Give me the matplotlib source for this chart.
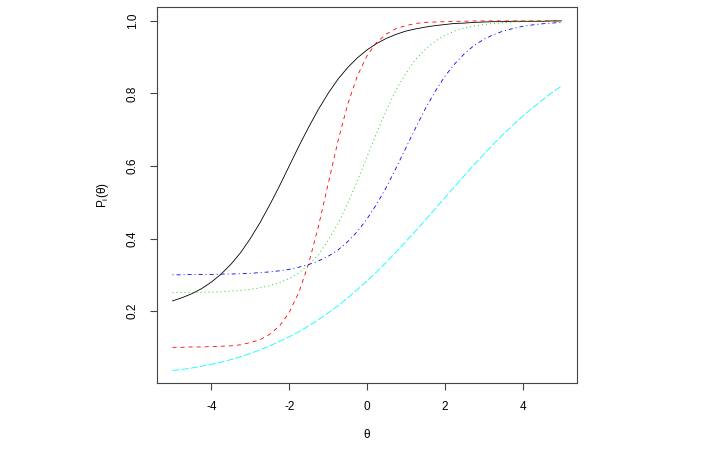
import numpy as np
import matplotlib
matplotlib.use('Agg')
import matplotlib.pyplot as plt

plt.rcParams['font.family'] = ['Liberation Sans', 'DejaVu Sans']
plt.rcParams['lines.scale_dashes'] = False
plt.rcParams['axes.unicode_minus'] = False

# theta grid (step 0.25) and item curves
theta = np.arange(-5, 5.0001, 0.25)

item1 = [0.228, 0.237, 0.248, 0.262, 0.280, 0.302, 0.329, 0.361, 0.400, 0.444,
         0.493, 0.545, 0.600, 0.655, 0.707, 0.756, 0.800, 0.839, 0.871, 0.898,
         0.920, 0.938, 0.952, 0.963, 0.972, 0.978, 0.983, 0.987, 0.990, 0.993,
         0.994, 0.996, 0.997, 0.998, 0.998, 0.999, 0.999, 0.999, 0.999, 1.000,
         1.000]
item2 = [0.100, 0.100, 0.101, 0.101, 0.102, 0.103, 0.104, 0.107, 0.113, 0.121,
         0.136, 0.159, 0.196, 0.252, 0.331, 0.433, 0.550, 0.667, 0.769, 0.848,
         0.904, 0.941, 0.964, 0.979, 0.987, 0.993, 0.996, 0.997, 0.998, 0.999,
         0.999, 1.000, 1.000, 1.000, 1.000, 1.000, 1.000, 1.000, 1.000, 1.000,
         1.000]
item3 = [0.251, 0.251, 0.251, 0.252, 0.252, 0.253, 0.255, 0.257, 0.260, 0.264,
         0.270, 0.278, 0.290, 0.306, 0.328, 0.356, 0.394, 0.440, 0.496, 0.558,
         0.625, 0.692, 0.754, 0.810, 0.856, 0.894, 0.922, 0.944, 0.960, 0.972,
         0.980, 0.986, 0.990, 0.993, 0.995, 0.997, 0.998, 0.998, 0.999, 0.999,
         0.999]
item4 = [0.300, 0.300, 0.301, 0.301, 0.301, 0.302, 0.302, 0.303, 0.304, 0.306,
         0.308, 0.311, 0.315, 0.321, 0.328, 0.338, 0.351, 0.368, 0.391, 0.419,
         0.454, 0.495, 0.542, 0.595, 0.650, 0.705, 0.758, 0.805, 0.847, 0.881,
         0.909, 0.932, 0.949, 0.962, 0.972, 0.979, 0.985, 0.989, 0.992, 0.994,
         0.996]
item5 = [0.036, 0.039, 0.043, 0.048, 0.053, 0.059, 0.066, 0.074, 0.083, 0.093,
         0.104, 0.116, 0.129, 0.143, 0.159, 0.176, 0.195, 0.214, 0.236, 0.259,
         0.283, 0.308, 0.335, 0.363, 0.392, 0.421, 0.451, 0.482, 0.512, 0.543,
         0.573, 0.603, 0.632, 0.660, 0.687, 0.712, 0.737, 0.760, 0.781, 0.802,
         0.820]

items = [item1, item2, item3, item4, item5]
colors = ['black', 'red', '#00CD00', 'blue', 'cyan']
# R lty 1..5, dash lengths in points
styles = ['-', (0, (2.9, 2.9)), (0, (0.72, 2.16)), (0, (0.72, 2.16, 2.9, 2.16)),
          (0, (5.0, 1.6))]

fig = plt.figure(figsize=(7.1, 4.62), dpi=100)
ax = fig.add_axes([157/710, 79/462, 420/710, 376/462])

for y, c, ls in zip(items, colors, styles):
    ax.plot(theta, y, color=c, linestyle=ls, linewidth=0.6)

ax.set_xlim(-5.4, 5.4)
ax.set_ylim(0.0016, 1.0384)
ax.set_xticks([-4, -2, 0, 2, 4])
ax.set_yticks([0.2, 0.4, 0.6, 0.8, 1.0])
ax.set_yticklabels(['0.2', '0.4', '0.6', '0.8', '1.0'])
ax.tick_params(direction='out', length=5, width=0.8, color='#444444',
               labelsize=8.5, pad=8)
ax.tick_params(axis='y', labelrotation=90)
for lab in ax.get_yticklabels():
    lab.set_va('center')
for s in ax.spines.values():
    s.set_color('#444444')
    s.set_linewidth(0.8)

ax.set_xlabel('θ', fontsize=8.5, va='center')
ax.xaxis.set_label_coords(0.5, -52/376)
ax.set_ylabel('P$_\\mathregular{i}$(θ)', fontsize=8.5, va='center')
ax.yaxis.set_label_coords(-54/420, 0.5)

plt.savefig('out.png', dpi=100)
